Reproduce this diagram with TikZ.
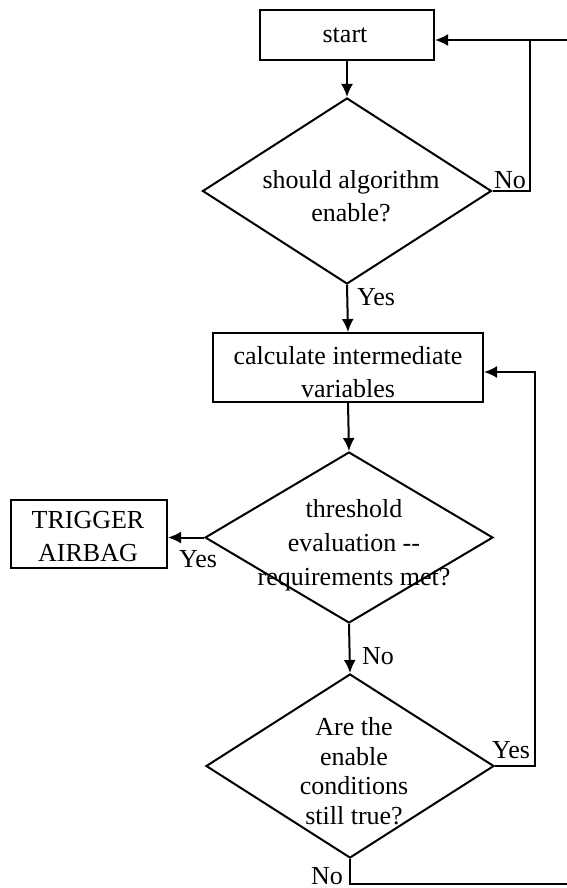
\documentclass[tikz,border=0pt]{standalone}
\usepackage{fontspec}
\setmainfont{Liberation Serif}
\usetikzlibrary{shapes.geometric,arrows.meta}
\tikzset{
  procBox/.style={rectangle, draw=black, line width=1pt, inner sep=0pt},
  decision/.style={diamond, draw=black, line width=1pt, inner sep=0pt},
  flowText/.style={align=center, font=\fontsize{13}{16.5}\selectfont, inner sep=0pt},
  flowLine/.style={line width=1pt},
  >={Latex[length=6.5pt,width=6pt]}
}
\begin{document}
\begin{tikzpicture}[x=0.5pt,y=-0.5pt]
\useasboundingbox (0,0) rectangle (567,888);
	\node[procBox, minimum width=87pt, minimum height=25pt](startBox) at (347,35){};
	\node[flowText](startText) at (345,35){start};

	\node[decision, minimum width=144.5pt, minimum height=93pt](enableDiam) at (347,191){};
	\node[flowText](enableText) at (351,196){should algorithm\\enable?};

	\node[procBox, minimum width=135pt, minimum height=34.5pt](calcBox) at (348,367.5){};
	\node[flowText](calcText) at (348,372){calculate intermediate\\variables};

	\node[decision, minimum width=144pt, minimum height=85.5pt](threshDiam) at (349,537.5){};
	\node[flowText, font=\fontsize{13}{17}\selectfont](threshText) at (354,545){threshold\\evaluation -{}-\\requirements met?};

	\node[procBox, minimum width=78pt, minimum height=34pt](trigBox) at (89,534){};
	\node[flowText](trigText) at (88,537){TRIGGER\\AIRBAG};

	\node[decision, minimum width=144pt, minimum height=92pt](condDiam) at (350,766){};
	\node[flowText, font=\fontsize{13}{14.75}\selectfont](condText) at (354,771){Are the\\enable\\conditions\\still true?};

	% branch labels
	\node[flowText](no1) at (510,180){No};
	\node[flowText](yes1) at (376,297){Yes};
	\node[flowText](yes2) at (198,559){Yes};
	\node[flowText](no2) at (378,656){No};
	\node[flowText](yes3) at (511,750){Yes};
	\node[flowText](no3) at (327,876){No};

	% loop corners
	\coordinate(loopTop) at (530,40);
	\coordinate(edgeTop) at (567,40);
	\coordinate(loopMid) at (535,372);
	\coordinate(edgeBot) at (567,884);

	\draw[->, flowLine] (startBox.south) -- (enableDiam.north);
	\draw[->, flowLine] (enableDiam.south) -- (calcBox.north);
	\draw[->, flowLine] (calcBox.south) -- (threshDiam.north);
	\draw[->, flowLine] (threshDiam.west) -- (trigBox.east |- threshDiam.west);
	\draw[->, flowLine] (threshDiam.south) -- (condDiam.north);

	\draw[flowLine] (enableDiam.east) -| (loopTop);
	\draw[->, flowLine] (edgeTop) -- (startBox.east |- loopTop);
	\draw[->, flowLine] (condDiam.east) -| (loopMid) -- (calcBox.east |- loopMid);
	\draw[flowLine] (condDiam.south) |- (edgeBot);
\end{tikzpicture}
\end{document}
